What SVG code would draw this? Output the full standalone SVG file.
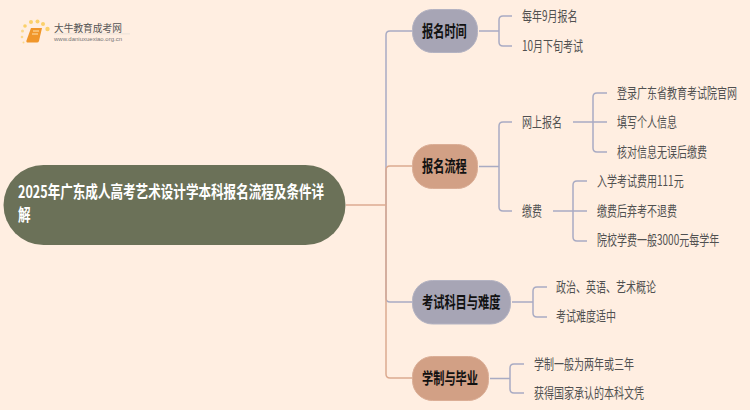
<svg xmlns="http://www.w3.org/2000/svg" width="750" height="410" viewBox="0 0 750 410">
<style>
text{font-family:"Noto Sans CJK SC","Liberation Sans",sans-serif}
.t{font-size:14px;fill:#505050}
.h{font-size:16px;font-weight:700;fill:#111}
.r{font-size:17px;font-weight:700;fill:#fff}
.g{fill:none;stroke:#a9abc3;stroke-width:1.5}
.o{fill:none;stroke:#dcaa90;stroke-width:1.5}
.ng{fill:#a7a5b5;stroke:#b4b3c2}
.no{fill:#d2a085;stroke:#dbae96}
</style>
<rect width="750" height="410" fill="#ffeee1"/>
<g id="logo">
<circle cx="25" cy="26" r="1.800" fill="#fbd06a"/><circle cx="31" cy="22" r="2" fill="#fbd06a"/><circle cx="37.500" cy="21.500" r="2" fill="#fbd06a"/><circle cx="43" cy="24" r="2" fill="#fbd06a"/><circle cx="47.500" cy="29" r="2.200" fill="#fbd06a"/><circle cx="22.500" cy="31" r="1.500" fill="#fbd88a"/><circle cx="22" cy="37" r="1.300" fill="#fbd88a"/><circle cx="23.500" cy="42.500" r="1" fill="#fbd88a"/>
<path d="M31 28h11l-3 13q-.5 1.500-2 1.500h-10q-1-.5-.5-2z" fill="#f0962a"/>
<path d="M33 31h6M32 34h6" stroke="#ffe2ad" stroke-width="1"/>
<text transform="translate(54 32) scale(.97 1)" style="font-size:10px" fill="#555">大牛教育成考网</text>
<rect x="54" y="33.500" width="76" height="0.800" fill="#e5ddd6"/>
<text x="54" y="41" style="font-size:6px;font-family:'Liberation Sans',sans-serif" fill="#777">www.daniuxuexiao.org.cn</text>
</g>
<g id="connectors">
<path class="g" d="M412 31H390q-4 0-4 4V205"/>
<path class="g" d="M412 302H390q-4 0-4-4V205"/>
<path class="o" d="M386 205V170q0-4 4-4H412"/>
<path class="o" d="M386 205V374q0 4 4 4H412"/>
<path class="o" d="M346 205H386" stroke-width="2"/>
<path class="g" d="M479 31H499M512 16H503q-4 0-4 4V42q0 4 4 4H512"/>
<path class="g" d="M479 166.500H499M512 122H503q-4 0-4 4V207q0 4 4 4H512"/>
<path class="g" d="M573 122H607M607 93H597q-4 0-4 4V148q0 4 4 4H607"/>
<path class="g" d="M553 211H587M587 181H577q-4 0-4 4V237q0 4 4 4H587"/>
<path class="g" d="M512 302H533M547 287H537q-4 0-4 4V313q0 4 4 4H547"/>
<path class="g" d="M490 378.500H510M524 364H514q-4 0-4 4V389q0 4 4 4H524"/>
</g>
<g id="root"><rect x="3.500" y="165" width="342" height="80" rx="40" fill="#6b7158"/>
<text class="r" transform="translate(18 198) scale(.74 1)">2025年广东成人高考艺术设计学本科报名流程及条件详</text>
<text class="r" transform="translate(18 221) scale(.74 1)">解</text></g>
<g id="n1"><rect class="ng" x="412.500" y="9.500" width="65" height="43" rx="20"/><text class="h" transform="translate(422 36.500) scale(.7 1)">报名时间</text></g>
<g id="n2"><rect class="no" x="412.500" y="144.500" width="65" height="44" rx="20"/><text class="h" transform="translate(422 172) scale(.7 1)">报名流程</text></g>
<g id="n3"><rect class="ng" x="412.500" y="280.500" width="98" height="43.500" rx="20"/><text class="h" transform="translate(422 307.500) scale(.7 1)">考试科目与难度</text></g>
<g id="n4"><rect class="no" x="412.500" y="356.500" width="76" height="44" rx="20"/><text class="h" transform="translate(422 384) scale(.7 1)">学制与毕业</text></g>
<g id="l1"><text class="t" transform="translate(522 21) scale(.715 1)">每年9月报名</text></g>
<g id="l2"><text class="t" transform="translate(522 51) scale(.715 1)">10月下旬考试</text></g>
<g id="l3"><text class="t" transform="translate(522 127) scale(.715 1)">网上报名</text></g>
<g id="l4"><text class="t" transform="translate(522 216) scale(.715 1)">缴费</text></g>
<g id="l5"><text class="t" transform="translate(617 98) scale(.715 1)">登录广东省教育考试院官网</text></g>
<g id="l6"><text class="t" transform="translate(617 127) scale(.715 1)">填写个人信息</text></g>
<g id="l7"><text class="t" transform="translate(617 157) scale(.715 1)">核对信息无误后缴费</text></g>
<g id="l8"><text class="t" transform="translate(597 186) scale(.715 1)">入学考试费用111元</text></g>
<g id="l9"><text class="t" transform="translate(597 216) scale(.715 1)">缴费后弃考不退费</text></g>
<g id="l10"><text class="t" transform="translate(597 245) scale(.715 1)">院校学费一般3000元每学年</text></g>
<g id="l11"><text class="t" transform="translate(556 292) scale(.715 1)">政治、英语、艺术概论</text></g>
<g id="l12"><text class="t" transform="translate(556 321) scale(.715 1)">考试难度适中</text></g>
<g id="l13"><text class="t" transform="translate(534 369) scale(.715 1)">学制一般为两年或三年</text></g>
<g id="l14"><text class="t" transform="translate(534 398) scale(.715 1)">获得国家承认的本科文凭</text></g>
</svg>
